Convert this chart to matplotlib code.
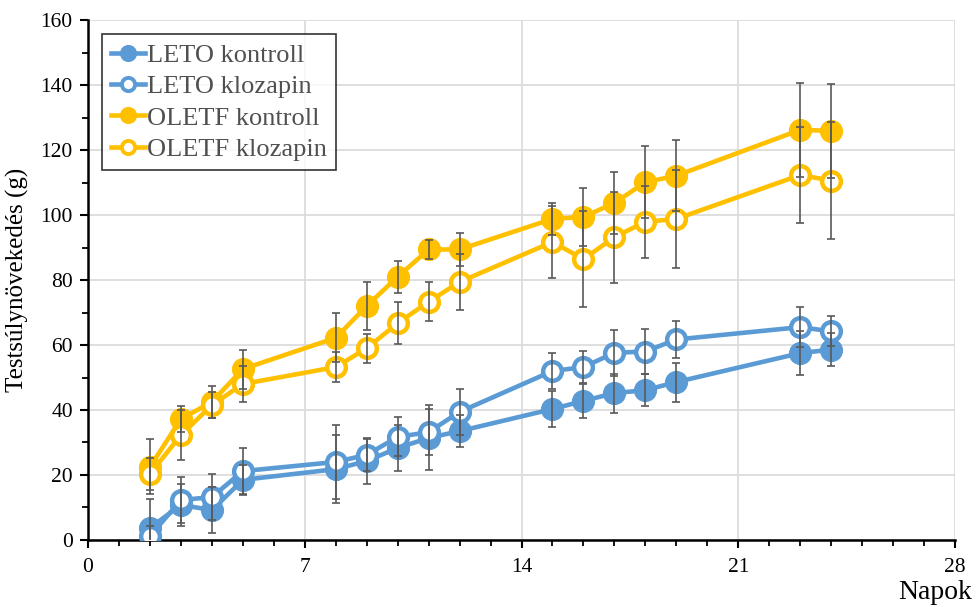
import matplotlib
matplotlib.use("Agg")
import matplotlib.pyplot as plt
from matplotlib.ticker import MultipleLocator
from matplotlib.lines import Line2D

days = [2, 3, 4, 5, 8, 9, 10, 11, 12, 15, 16, 17, 18, 19, 23, 24]

leto_kontroll = [3.7, 10.8, 9.2, 18.5, 21.8, 24.3, 28.3, 31.4, 33.5, 40.3, 42.8, 45.2, 46.1, 48.6, 57.5, 58.6]
leto_kontroll_err = [9, 6.5, 7, 4.7, 10.5, 7, 7, 10, 5, 5.5, 5.2, 6, 5, 6, 6.7, 5]

leto_klozapin = [1.2, 12.3, 13.2, 21.2, 24.0, 26.2, 31.7, 33.2, 39.4, 52.0, 53.2, 57.6, 58.0, 61.7, 65.5, 64.2]
leto_klozapin_err = [3, 7, 7, 7, 11.5, 5, 6, 7, 7, 5.5, 5, 7, 7, 5.7, 6.2, 4.6]

oletf_kontroll = [22.5, 37.2, 42.5, 52.6, 62.2, 72.0, 81.0, 89.4, 89.4, 98.8, 99.4, 103.7, 110.1, 112.1, 126.2, 125.9]
oletf_kontroll_err = [8.5, 4, 5, 6, 7.5, 7.4, 5, 3, 5, 5, 9, 9.5, 11, 11, 14.4, 14.5]

oletf_klozapin = [20.3, 32.3, 41.5, 48.0, 53.2, 59.0, 66.7, 73.3, 79.4, 91.7, 86.4, 93.2, 97.9, 98.8, 112.3, 110.6]
oletf_klozapin_err = [5, 7.7, 4, 5.5, 4.6, 4.5, 6.4, 6, 8.5, 11, 14.7, 14, 11, 15, 14.7, 18]

blue = "#5B9BD5"
gold = "#FFC000"
err_color = "#595959"

plt.rcParams["font.family"] = ["Liberation Serif", "DejaVu Serif"]

fig = plt.figure(figsize=(9.76, 6.07), dpi=100)
ax = fig.add_axes([0.0902, 0.1104, 0.8883, 0.8566])

series = [
    ("LETO kontroll", leto_kontroll, leto_kontroll_err, blue, True),
    ("LETO klozapin", leto_klozapin, leto_klozapin_err, blue, False),
    ("OLETF kontroll", oletf_kontroll, oletf_kontroll_err, gold, True),
    ("OLETF klozapin", oletf_klozapin, oletf_klozapin_err, gold, False),
]

handles = []
for i, (name, vals, errs, col, filled) in enumerate(series):
    face = col if filled else "white"
    ax.plot(days, vals, color=col, lw=3.3, marker="o", ms=13.5,
            mfc=face, mec=col, mew=3.2, zorder=3 + i, solid_capstyle="round")
    ax.errorbar(days, vals, yerr=errs, fmt="none", ecolor=err_color,
                elinewidth=1.2, capsize=3, capthick=1.2, zorder=10)
    handles.append(Line2D([], [], color=col, lw=3.3, marker="o", ms=9.5,
                          mfc=face, mec=col, mew=2.8))

ax.set_xlim(0, 28)
ax.set_ylim(0, 160)
ax.xaxis.set_major_locator(MultipleLocator(7))
ax.xaxis.set_minor_locator(MultipleLocator(1))
ax.yaxis.set_major_locator(MultipleLocator(20))
ax.yaxis.set_minor_locator(MultipleLocator(10))

ax.grid(True, which="major", color="#D9D9D9", lw=1.2, zorder=0)
ax.set_axisbelow(True)
for s in ("top", "right"):
    ax.spines[s].set_visible(False)
for s in ("left", "bottom"):
    ax.spines[s].set_color("black")
    ax.spines[s].set_linewidth(1.8)

ax.tick_params(which="major", direction="out", length=6, width=1.5,
               labelsize=15.5, colors="black")
ax.tick_params(which="minor", direction="out", length=4, width=1.3)
ax.tick_params(axis="x", pad=7)
ax.tick_params(axis="y", pad=5)

ax.set_ylabel("Testsúlynövekedés (g)", fontsize=18, labelpad=8)
fig.text(0.958, 0.024, "Napok", fontsize=20, ha="center", va="center")

leg = ax.legend(handles, [s[0] for s in series], loc="upper left",
                bbox_to_anchor=(0.016, 0.973), fontsize=19, frameon=True,
                fancybox=False, edgecolor="black", handlelength=1.3,
                handletextpad=0.05, borderpad=0.35, labelspacing=0.3,
                borderaxespad=0)
leg.get_frame().set_linewidth(1.2)
for t in leg.get_texts():
    t.set_color("#505050")

fig.savefig("out.png", dpi=100)
